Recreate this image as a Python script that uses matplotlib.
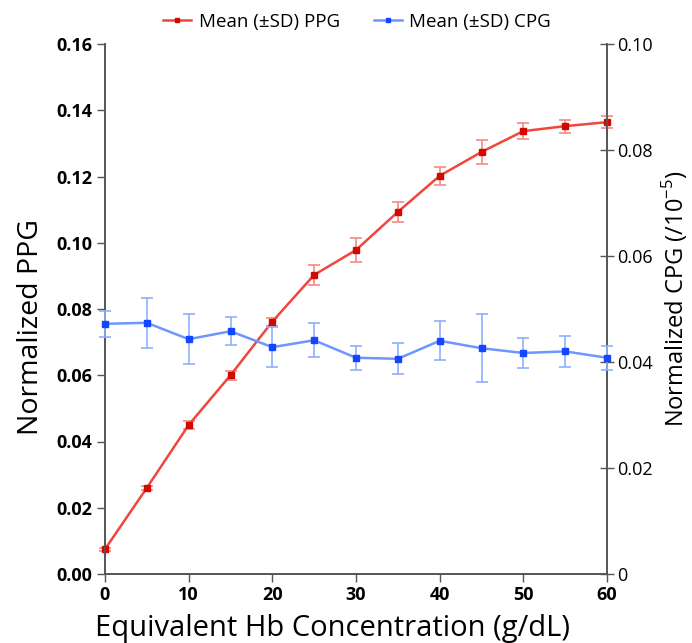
import matplotlib
matplotlib.use("Agg")
import matplotlib.pyplot as plt
from matplotlib.lines import Line2D

plt.rcParams['font.family'] = ['Open Sans', 'DejaVu Sans']
plt.rcParams['mathtext.fontset'] = 'custom'
plt.rcParams['mathtext.rm'] = 'Open Sans'

hb = [0, 5, 10, 15, 20, 25, 30, 35, 40, 45, 50, 55, 60]
ppg_mean = [0.0075, 0.026, 0.045, 0.060, 0.0762, 0.0903, 0.0978, 0.1093, 0.1202, 0.1274, 0.1337, 0.1352, 0.1364]
ppg_sd = [0.0005, 0.0006, 0.0012, 0.0013, 0.0012, 0.0030, 0.0037, 0.0030, 0.0027, 0.0035, 0.0025, 0.0020, 0.0018]
cpg_mean = [0.0472, 0.0474, 0.0443, 0.0458, 0.0428, 0.0441, 0.0408, 0.0406, 0.0440, 0.0426, 0.0417, 0.0420, 0.0408]
cpg_sd = [0.0025, 0.0047, 0.0047, 0.0026, 0.0038, 0.0032, 0.0023, 0.0029, 0.0037, 0.0064, 0.0028, 0.0030, 0.0023]

left_ticks = [0.00, 0.02, 0.04, 0.06, 0.08, 0.10, 0.12, 0.14, 0.16]
right_ticks = [0, 0.02, 0.04, 0.06, 0.08, 0.10]
right_labels = ['0', '0.02', '0.04', '0.06', '0.08', '0.10']
x_ticks = [0, 10, 20, 30, 40, 50, 60]

red_line = '#f0463c'
red_mark = '#d10a00'
red_err = '#f58a84'
blue_line = '#6e96ff'
blue_mark = '#1446ff'
blue_err = '#8fb0ff'

fig = plt.figure(figsize=(6.92, 6.43), dpi=100)
ax = fig.add_axes([105/692, 69/643, 502/692, 530/643])
ax2 = ax.twinx()

ax.errorbar(hb, ppg_mean, yerr=ppg_sd, color=red_line, lw=1.8, ecolor=red_err,
            elinewidth=1.2, capsize=4, capthick=1.2, marker='s', ms=3.8,
            mfc=red_mark, mec=red_mark, clip_on=False, zorder=3)
ax2.errorbar(hb, cpg_mean, yerr=cpg_sd, color=blue_line, lw=1.8, ecolor=blue_err,
             elinewidth=1.2, capsize=4, capthick=1.2, marker='s', ms=3.8,
             mfc=blue_mark, mec=blue_mark, clip_on=False, zorder=3)

ax.set_xlim(0, 60)
ax.set_ylim(0, 0.16)
ax2.set_ylim(0, 0.10)
ax.set_xticks(x_ticks)
ax.set_yticks(left_ticks)
ax.set_yticklabels([f'{v:.2f}' for v in left_ticks], fontweight='bold', fontsize=13)
ax.set_xticklabels([str(v) for v in x_ticks], fontweight='bold', fontsize=13)
ax2.set_yticks(right_ticks)
ax2.set_yticklabels(right_labels, fontsize=13)

for a in (ax, ax2):
    a.spines['top'].set_visible(False)
    for s in ('left', 'right', 'bottom'):
        a.spines[s].set_color('#555555')
        a.spines[s].set_linewidth(1.2)
ax.tick_params(axis='both', direction='out', length=6, width=1, color='#555555', pad=3)
ax2.tick_params(axis='y', direction='inout', length=10, width=1, color='#555555', pad=2)

ax.set_ylabel('Normalized PPG', fontsize=20.5)
ax.yaxis.set_label_coords(-0.1195, 0.466)
ax.set_xlabel('Equivalent Hb Concentration (g/dL)', fontsize=21)
ax.xaxis.set_label_coords(0.454, -0.0755)
ax2.set_ylabel(r'Normalized CPG (/10$^{\mathregular{-5}}$)', fontsize=17)
ax2.yaxis.set_label_coords(1.106, 0.519)

handles = [
    Line2D([], [], color=red_line, lw=1.8, marker='s', ms=3.5, mfc=red_mark, mec=red_mark),
    Line2D([], [], color=blue_line, lw=1.8, marker='s', ms=3.5, mfc=blue_mark, mec=blue_mark),
]
fig.legend(handles, ['Mean (\u00b1SD) PPG', 'Mean (\u00b1SD) CPG'], loc='center',
           bbox_to_anchor=(0.516, 0.966), ncol=2, frameon=False, fontsize=13.5,
           handlelength=1.5, handletextpad=0.4, columnspacing=1.8)

fig.savefig('out.png', dpi=100)
